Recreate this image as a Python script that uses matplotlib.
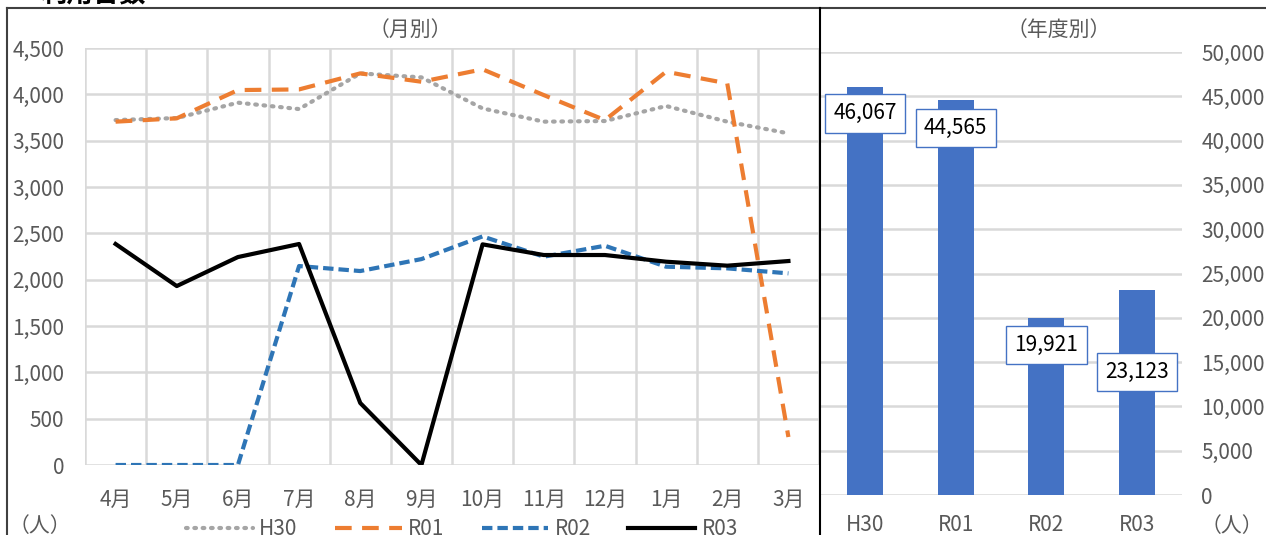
import matplotlib
matplotlib.use('Agg')
import matplotlib.pyplot as plt
import numpy as np
from matplotlib.ticker import FuncFormatter, FixedLocator

plt.rcParams['font.family'] = ['Noto Sans CJK JP', 'DejaVu Sans']

# data
months = ['4月', '5月', '6月', '7月', '8月', '9月', '10月', '11月', '12月', '1月', '2月', '3月']
h30 = [3722, 3744, 3910, 3841, 4226, 4183, 3848, 3705, 3712, 3874, 3705, 3579]
r01 = [3705, 3741, 4046, 4053, 4226, 4136, 4270, 3992, 3722, 4244, 4118, 302]
r02 = [0, 0, 0, 2147, 2093, 2222, 2467, 2248, 2366, 2140, 2122, 2068]
r03 = [2385, 1931, 2244, 2385, 669, 0, 2381, 2266, 2266, 2194, 2151, 2201]
years = ['H30', 'R01', 'R02', 'R03']
totals = [46067, 44565, 19921, 23123]

GRAY_TXT = '#595959'
GRID = '#D9D9D9'
W, H = 1266, 535
FS = 15

fig = plt.figure(figsize=(W / 100, H / 100), dpi=100)
fmt = FuncFormatter(lambda v, p: f'{int(v):,}')

# ---- monthly line chart ----
ax = fig.add_axes([85 / W, 1 - 465 / H, (819 - 85) / W, 417 / H])
x = np.arange(len(months))
ax.plot(x, h30, color='#A5A5A5', lw=3, linestyle=(0, (0.4, 1.6)), dash_capstyle='round', label='H30')
ax.plot(x, r01, color='#ED7D31', lw=3, linestyle=(0, (4, 2.5)), label='R01')
ax.plot(x, r02, color='#2E75B6', lw=3, linestyle=(0, (2.5, 1.2)), label='R02')
ax.plot(x, r03, color='black', lw=3, label='R03')
ax.set_xlim(-0.5, len(months) - 0.5)
ax.set_ylim(0, 4500)
ax.set_yticks(np.arange(0, 4501, 500))
ax.yaxis.set_major_formatter(fmt)
ax.set_xticks(x)
ax.set_xticklabels(months)
ax.xaxis.set_minor_locator(FixedLocator(np.arange(-0.5, len(months), 1)))
ax.grid(axis='y', which='major', color=GRID, lw=1.8)
ax.grid(axis='x', which='minor', color=GRID, lw=1.8)
ax.set_axisbelow(True)
for s in ax.spines.values():
    s.set_visible(False)
ax.tick_params(axis='both', which='both', length=0, colors=GRAY_TXT, labelsize=FS)
ax.tick_params(axis='x', pad=17)
ax.tick_params(axis='y', pad=15)
ax.text(0.443, 1.043, '（月別）', transform=ax.transAxes, ha='center', va='center',
        color=GRAY_TXT, fontsize=FS)

# ---- yearly bar chart ----
bx = fig.add_axes([820 / W, 1 - 495 / H, (1182 - 820) / W, 443 / H])
xb = np.arange(len(years))
bars = bx.bar(xb, totals, width=0.4, color='#4472C4')
bx.set_xlim(-0.5, len(years) - 0.5)
bx.set_ylim(0, 50000)
bx.set_yticks(np.arange(0, 50001, 5000))
bx.yaxis.set_major_formatter(fmt)
bx.yaxis.tick_right()
bx.set_xticks(xb)
bx.set_xticklabels(years)
bx.grid(axis='y', color=GRID, lw=1.8)
bx.set_axisbelow(True)
for s in bx.spines.values():
    s.set_visible(False)
bx.tick_params(axis='both', length=0, colors=GRAY_TXT, labelsize=FS)
bx.tick_params(axis='x', pad=14)
bx.tick_params(axis='y', pad=14)
bx.text(0.66, 1.05, '（年度別）', transform=bx.transAxes, ha='center', va='center',
        color=GRAY_TXT, fontsize=FS)

label_dy = [-19, -20, -19, -59]
for b, v, dy in zip(bars, totals, label_dy):
    bx.annotate(f'{v:,}', (b.get_x() + b.get_width() / 2, v), xytext=(0, dy),
                textcoords='offset points', ha='center', va='center', fontsize=FS,
                color='black',
                bbox=dict(boxstyle='square,pad=0.4', fc='white', ec='#4472C4', lw=1))

# legend
handles, labels = ax.get_legend_handles_labels()
fig.legend(handles, labels, loc='center', bbox_to_anchor=(462 / W, 1 - 529 / H), ncol=4,
           frameon=False, fontsize=FS, labelcolor=GRAY_TXT, handlelength=3.2,
           columnspacing=1.8, handletextpad=0.3)

# unit labels
fig.text(40 / W, 1 - 526 / H, '（人）', ha='center', va='center', color=GRAY_TXT, fontsize=FS)
fig.text(1232 / W, 1 - 526 / H, '（人）', ha='center', va='center', color=GRAY_TXT, fontsize=FS)

# frame and divider
fig.add_artist(plt.Line2D([7 / W, 1], [1 - 8 / H, 1 - 8 / H], transform=fig.transFigure, color='#404040', lw=1.5))
fig.add_artist(plt.Line2D([7 / W, 7 / W], [0, 1 - 8 / H], transform=fig.transFigure, color='#404040', lw=1.5))
fig.add_artist(plt.Line2D([820 / W, 820 / W], [0, 1 - 8 / H], transform=fig.transFigure, color='black', lw=1.5))

# title (cut at top in the original)
fig.text(40 / W, 1 + 6 / H, '利用台数', ha='left', va='center', fontsize=19, fontweight='bold')

fig.savefig('out.png', dpi=100)
